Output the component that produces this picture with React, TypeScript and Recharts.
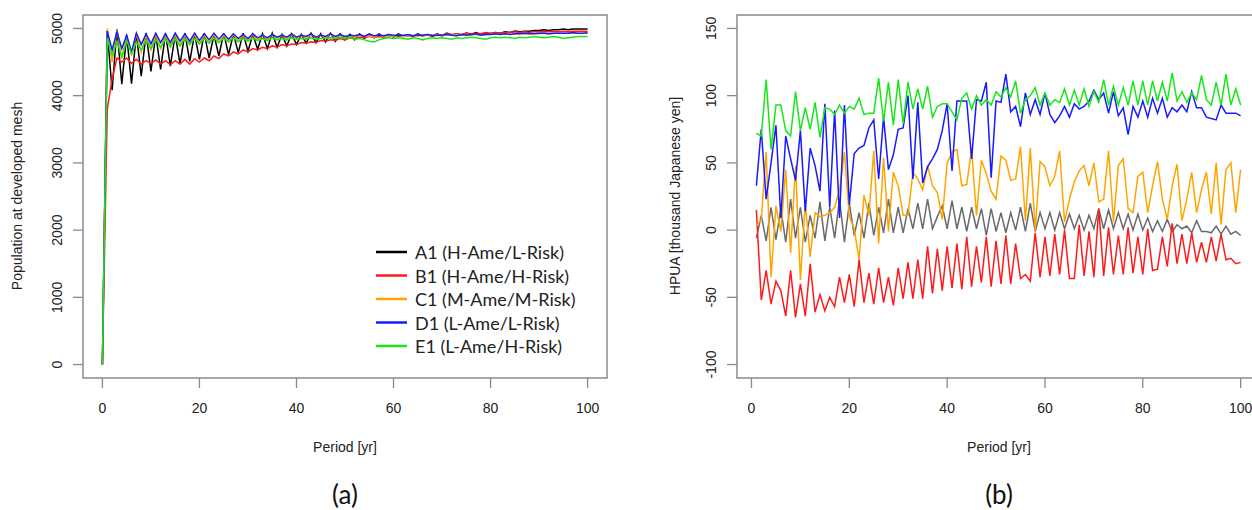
import { LineChart, Line, XAxis, YAxis, ReferenceArea } from 'recharts';

// period (years)
const periodA = [
  0, 1, 2, 3, 4, 5, 6, 7, 8, 9, 10, 11, 12, 13, 14, 15, 16, 17, 18, 19, 20,
  21, 22, 23, 24, 25, 26, 27, 28, 29, 30, 31, 32, 33, 34, 35, 36, 37, 38, 39, 40,
  41, 42, 43, 44, 45, 46, 47, 48, 49, 50, 51, 52, 53, 54, 55, 56, 57, 58, 59, 60,
  61, 62, 63, 64, 65, 66, 67, 68, 69, 70, 71, 72, 73, 74, 75, 76, 77, 78, 79, 80,
  81, 82, 83, 84, 85, 86, 87, 88, 89, 90, 91, 92, 93, 94, 95, 96, 97, 98, 99, 100,
];
const periodB = periodA.slice(1);

// (a) population at developed mesh
const popA1 = [0,
  4960, 4080, 4990, 4170, 4900, 4180, 4920, 4290, 4930, 4360,
  4910, 4390, 4930, 4440, 4910, 4470, 4930, 4510, 4920, 4540,
  4930, 4560, 4910, 4590, 4930, 4610, 4920, 4640, 4930, 4660,
  4910, 4690, 4920, 4700, 4930, 4720, 4910, 4740, 4920, 4760,
  4910, 4780, 4930, 4790, 4920, 4800, 4930, 4810, 4920, 4830,
  4910, 4830, 4920, 4850, 4910, 4860, 4920, 4870, 4910, 4870,
  4920, 4880, 4900, 4880, 4920, 4890, 4910, 4880, 4920, 4890,
  4930, 4900, 4920, 4900, 4930, 4910, 4940, 4910, 4930, 4920,
  4940, 4930, 4950, 4940, 4960, 4950, 4960, 4960, 4970, 4970,
  4980, 4970, 4980, 4980, 4990, 4980, 4990, 4990, 4990, 4990];
const popB1 = [0,
  3800, 4250, 4560, 4500, 4560, 4480, 4540, 4470, 4520, 4480,
  4530, 4470, 4520, 4460, 4520, 4470, 4540, 4470, 4550, 4500,
  4560, 4520, 4590, 4550, 4620, 4590, 4650, 4620, 4680, 4650,
  4700, 4680, 4720, 4700, 4740, 4720, 4760, 4740, 4770, 4760,
  4790, 4780, 4800, 4790, 4820, 4810, 4830, 4820, 4850, 4830,
  4860, 4850, 4870, 4860, 4880, 4870, 4880, 4870, 4890, 4880,
  4890, 4880, 4900, 4890, 4900, 4890, 4910, 4900, 4910, 4900,
  4920, 4910, 4920, 4910, 4930, 4920, 4930, 4920, 4940, 4930,
  4940, 4930, 4940, 4940, 4950, 4940, 4950, 4940, 4950, 4950,
  4950, 4950, 4960, 4950, 4960, 4950, 4960, 4960, 4960, 4960];
const popC1 = [0,
  5000, 4500, 4990, 4550, 4900, 4600, 4920, 4650, 4900, 4680,
  4910, 4700, 4900, 4720, 4910, 4740, 4900, 4760, 4910, 4770,
  4900, 4780, 4910, 4790, 4900, 4800, 4910, 4810, 4900, 4820,
  4910, 4820, 4900, 4830, 4910, 4840, 4900, 4840, 4910, 4850,
  4900, 4850, 4910, 4860, 4900, 4860, 4910, 4870, 4900, 4870,
  4890, 4870, 4900, 4880, 4890, 4870, 4900, 4880, 4890, 4880,
  4900, 4880, 4890, 4890, 4900, 4890, 4900, 4890, 4900, 4890,
  4910, 4900, 4910, 4900, 4910, 4900, 4910, 4900, 4910, 4910,
  4920, 4910, 4920, 4910, 4920, 4920, 4920, 4920, 4930, 4920,
  4930, 4920, 4930, 4930, 4930, 4930, 4930, 4930, 4930, 4930];
const popD1 = [0,
  4960, 4680, 4950, 4700, 4900, 4650, 4930, 4760, 4920, 4770,
  4930, 4790, 4920, 4790, 4930, 4810, 4920, 4810, 4930, 4820,
  4920, 4830, 4930, 4840, 4920, 4840, 4920, 4850, 4910, 4850,
  4920, 4860, 4900, 4860, 4910, 4870, 4900, 4870, 4920, 4870,
  4900, 4880, 4920, 4870, 4900, 4880, 4920, 4880, 4910, 4880,
  4900, 4890, 4910, 4880, 4920, 4890, 4900, 4890, 4910, 4900,
  4890, 4900, 4910, 4890, 4900, 4900, 4910, 4890, 4900, 4900,
  4910, 4900, 4890, 4910, 4900, 4910, 4920, 4900, 4910, 4910,
  4920, 4910, 4920, 4910, 4920, 4920, 4930, 4920, 4920, 4930,
  4930, 4920, 4930, 4930, 4930, 4930, 4940, 4930, 4930, 4935];
const popE1 = [0,
  4850, 4600, 4800, 4580, 4820, 4620, 4800, 4680, 4830, 4700,
  4840, 4720, 4840, 4730, 4850, 4740, 4850, 4760, 4850, 4770,
  4850, 4780, 4860, 4790, 4850, 4800, 4860, 4800, 4850, 4810,
  4860, 4820, 4850, 4820, 4860, 4830, 4850, 4830, 4860, 4840,
  4850, 4840, 4860, 4840, 4850, 4850, 4860, 4850, 4870, 4850,
  4860, 4840, 4850, 4830, 4810, 4800, 4830, 4850, 4860, 4850,
  4860, 4850, 4840, 4860, 4850, 4830, 4850, 4860, 4850, 4860,
  4850, 4840, 4860, 4850, 4860, 4870, 4860, 4850, 4840, 4860,
  4870, 4860, 4870, 4860, 4850, 4870, 4860, 4870, 4880, 4870,
  4860, 4870, 4880, 4870, 4850, 4860, 4870, 4880, 4880, 4880];

// (b) HPUA [thousand Japanese yen]
const hpuaA1 = [
  -6, 11, -8, 17, -7, 16, -9, 23, -6, 17,
  -9, 11, -6, 21, -8, 17, -6, 23, -9, 20,
  -4, 13, -6, 20, -4, 17, -2, 23, -2, 17,
  -2, 16, 1, 20, 1, 23, 1, 10, 18, 1,
  22, 1, 17, -1, 17, 1, 16, -4, 16, -1,
  13, -2, 13, 0, 17, -1, 20, -1, 13, 1,
  13, 0, 13, 1, 12, 1, 11, 0, 11, 1,
  16, 1, 15, 1, 13, 1, 12, 0, 12, 0,
  9, -1, 7, -1, 8, -1, 4, 1, 3, -2,
  7, -1, -1, -2, 3, -3, 3, -3, -1, -4];
const hpuaB1 = [
  15, -52, -30, -55, -38, -45, -64, -30, -65, -40,
  -64, -25, -61, -48, -60, -50, -57, -35, -54, -33,
  -57, -22, -54, -32, -55, -28, -54, -35, -56, -28,
  -51, -24, -51, -22, -51, -12, -47, -14, -45, -12,
  -43, -10, -44, -5, -42, -12, -39, -5, -42, -8,
  -40, -4, -40, -10, -36, -33, -38, -2, -35, -5,
  -34, -3, -33, 0, -36, -36, 4, -34, -1, -35,
  16, -34, 2, -33, -4, -33, 2, -32, -5, -33,
  1, -30, -29, -5, -27, 5, -25, -3, -25, -2,
  -24, -9, -24, -5, -23, -3, -22, -21, -25, -24];
const hpuaC1 = [
  3, 8, 58, -35, 18, -1, 45, -17, 48, -37,
  20, -20, 13, 10, 11, 13, 17, 30, 58, 10,
  1, -22, 26, 11, 59, -10, 54, -1, 43, 33,
  11, 11, 43, 38, 30, 48, 33, 28, 8, 50,
  58, 60, 33, 34, 60, 11, 52, 42, 29, 23,
  55, 52, 37, 38, 62, 7, 61, 0, 51, 47,
  33, 40, 59, 6, 23, 36, 44, 48, 33, 50,
  21, 23, 59, 6, 48, 53, 16, 13, 40, 43,
  13, 33, 51, 23, 8, 33, 49, 7, 23, 43,
  13, 30, 43, 12, 50, 4, 45, 50, 13, 45];
const hpuaD1 = [
  33, 75, 23, 50, 78, 9, 70, 53, 37, 74,
  14, 61, 48, 29, 94, 17, 89, 9, 93, 19,
  57, 61, 63, 76, 82, 38, 84, 45, 56, 75,
  76, 100, 38, 95, 35, 47, 53, 60, 74, 94,
  44, 96, 96, 96, 53, 97, 96, 110, 39, 96,
  95, 116, 88, 92, 77, 102, 86, 97, 86, 102,
  86, 80, 85, 92, 84, 94, 90, 92, 96, 104,
  97, 102, 87, 103, 85, 91, 71, 92, 84, 96,
  84, 98, 87, 98, 84, 91, 88, 93, 88, 103,
  91, 91, 84, 83, 82, 93, 87, 87, 87, 85];
const hpuaE1 = [
  72, 70, 112, 60, 93, 93, 74, 70, 103, 74,
  91, 75, 95, 69, 91, 90, 86, 93, 87, 92,
  90, 98, 86, 87, 87, 113, 81, 110, 78, 112,
  79, 110, 90, 105, 90, 107, 84, 92, 94, 94,
  88, 82, 98, 102, 90, 100, 93, 97, 93, 103,
  99, 106, 99, 111, 87, 97, 100, 106, 93, 102,
  93, 97, 95, 105, 93, 104, 93, 105, 92, 103,
  95, 112, 93, 107, 93, 106, 93, 111, 93, 111,
  93, 111, 96, 110, 96, 117, 96, 103, 95, 102,
  97, 115, 97, 93, 110, 93, 116, 93, 105, 93];

const xTicks = [0, 20, 40, 60, 80, 100];
const popTicks = [0, 1000, 2000, 3000, 4000, 5000];
const hpuaTicks = [-100, -50, 0, 50, 100, 150];

const legendNames = ['A1 (H-Ame/L-Risk)', 'B1 (H-Ame/H-Risk)', 'C1 (M-Ame/M-Risk)', 'D1 (L-Ame/L-Risk)', 'E1 (L-Ame/H-Risk)'];
const colorsA = ['#000000', '#ff1a1a', '#ffa500', '#1a1aff', '#19e619'];
const colorsB = ['#6a6a6a', '#ff1a1a', '#ffa500', '#1a1aff', '#19e619'];
const keys = ['a1', 'b1', 'c1', 'd1', 'e1'];

const dataA = periodA.map((t, i) => ({ t, a1: popA1[i], b1: popB1[i], c1: popC1[i], d1: popD1[i], e1: popE1[i] }));
const dataB = periodB.map((t, i) => ({ t, a1: hpuaA1[i], b1: hpuaB1[i], c1: hpuaC1[i], d1: hpuaD1[i], e1: hpuaE1[i] }));

const AXIS_FONT = '"Liberation Sans", Arial, sans-serif';
const CAP_FONT = 'Lato, "Open Sans", sans-serif';
const GREY = '#8a8a8a';

const YTick = (props: any) => {
  const { x, y, payload } = props;
  return (
    <text transform={`translate(${x - 9},${y}) rotate(-90)`} textAnchor="middle" fontSize={14} fill="#222" fontFamily={AXIS_FONT}>
      {payload.value}
    </text>
  );
};

const XTick = (props: any) => {
  const { x, y, payload } = props;
  return (
    <text x={x} y={y} dy="0.71em" textAnchor="middle" fontSize={14} fill="#222" fontFamily={AXIS_FONT}>
      {payload.value}
    </text>
  );
};

function Panel({ data, colors, width, left, xDomain, yDomain, yTicks }: any) {
  return (
    <LineChart width={width} height={430} data={data} margin={{ top: 15, right: 10, bottom: 12, left }}>
      <XAxis
        type="number"
        dataKey="t"
        domain={xDomain}
        ticks={xTicks}
        interval={0}
        allowDataOverflow
        axisLine={false}
        tickLine={{ stroke: GREY, strokeWidth: 1.3 }}
        tickSize={10}
        tickMargin={15}
        height={40}
        tick={<XTick />}
      />
      <YAxis
        type="number"
        domain={yDomain}
        ticks={yTicks}
        interval={0}
        allowDataOverflow
        axisLine={false}
        tickLine={{ stroke: GREY, strokeWidth: 1.3 }}
        tickSize={10}
        width={60}
        tick={<YTick />}
      />
      <ReferenceArea x1={xDomain[0]} x2={xDomain[1]} y1={yDomain[0]} y2={yDomain[1]} fill="none" fillOpacity={0} stroke={GREY} strokeWidth={1.5} ifOverflow="visible" />
      {keys.map((k, i) => (
        <Line key={k} type="linear" dataKey={k} stroke={colors[i]} strokeWidth={1.5} dot={false} isAnimationActive={false} />
      ))}
    </LineChart>
  );
}

export default function App() {
  return (
    <div style={{ position: 'absolute', left: 0, top: 0, width: 1252, height: 510, overflow: 'hidden', background: '#fff' }}>
      <div style={{ position: 'absolute', left: 0, top: 0 }}>
        <Panel data={dataA} colors={colorsA} width={617} left={23} xDomain={[-4, 104]} yDomain={[-200, 5200]} yTicks={popTicks} />
      </div>
      <div style={{ position: 'absolute', left: 640, top: 0 }}>
        <Panel data={dataB} colors={colorsB} width={630} left={37} xDomain={[-2.96, 103.96]} yDomain={[-110, 160]} yTicks={hpuaTicks} />
      </div>
      <svg width={1252} height={510} style={{ position: 'absolute', left: 0, top: 0, pointerEvents: 'none' }}>
        <text transform="translate(17,196) rotate(-90)" textAnchor="middle" dominantBaseline="central" fontSize={14} fill="#222" fontFamily={AXIS_FONT}>
          Population at developed mesh
        </text>
        <text transform="translate(675,196) rotate(-90)" textAnchor="middle" dominantBaseline="central" fontSize={14} fill="#222" fontFamily={AXIS_FONT}>
          HPUA [thousand Japanese yen]
        </text>
        <text x={345} y={447} textAnchor="middle" dominantBaseline="central" fontSize={14} fill="#222" fontFamily={AXIS_FONT}>Period [yr]</text>
        <text x={999} y={447} textAnchor="middle" dominantBaseline="central" fontSize={14} fill="#222" fontFamily={AXIS_FONT}>Period [yr]</text>
        <text x={345} y={494} textAnchor="middle" dominantBaseline="central" fontSize={26} fill="#111" fontFamily={CAP_FONT}>(a)</text>
        <text x={999} y={494} textAnchor="middle" dominantBaseline="central" fontSize={26} fill="#111" fontFamily={CAP_FONT}>(b)</text>
        {legendNames.map((name, i) => (
          <g key={name}>
            <line x1={376} x2={407} y1={252 + i * 23.5} y2={252 + i * 23.5} stroke={colorsA[i]} strokeWidth={2.5} />
            <text x={415} y={252 + i * 23.5} dominantBaseline="central" fontSize={18} fill="#222" fontFamily={CAP_FONT}>{name}</text>
          </g>
        ))}
      </svg>
    </div>
  );
}
